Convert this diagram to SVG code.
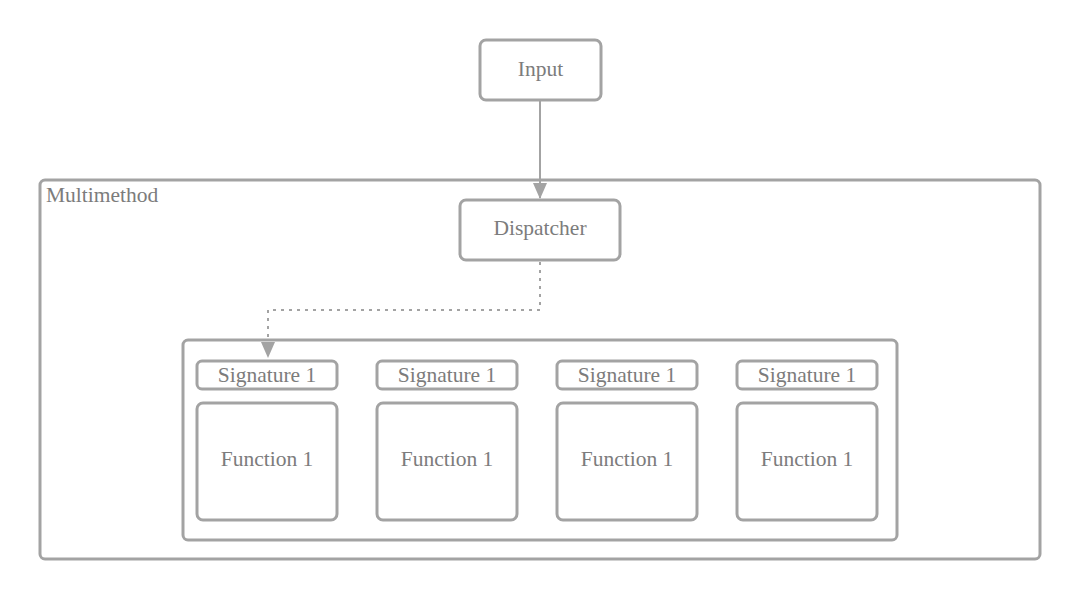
<svg xmlns="http://www.w3.org/2000/svg" width="1080" height="600" viewBox="0 0 1080 600">
<style>
.box{fill:#fff;stroke:#a3a3a3;stroke-width:3}
.t{font-family:"Liberation Serif","DejaVu Serif",serif;font-size:21.5px;fill:#7c7c7c;text-anchor:middle;dominant-baseline:central}
.edge{fill:none;stroke:#a3a3a3;stroke-width:2}
</style>
<defs>
<marker id="ah" markerWidth="16" markerHeight="14" refX="15" refY="7" orient="auto" markerUnits="userSpaceOnUse">
<path d="M0,0 L16,7 L0,14 z" fill="#a3a3a3"/>
</marker>
</defs>
<rect width="1080" height="600" fill="#fff"/>
<g id="multimethod">
<rect class="box" x="40" y="180" width="1000" height="379" rx="5"/>
<text class="t" x="46" y="195" style="text-anchor:start">Multimethod</text>
</g>
<g id="input">
<rect class="box" x="480" y="40" width="121" height="60" rx="6"/>
<text class="t" x="540.500" y="69">Input</text>
</g>
<g id="dispatcher">
<rect class="box" x="460" y="200" width="160" height="60" rx="6"/>
<text class="t" x="540" y="228">Dispatcher</text>
</g>
<g id="container">
<rect class="box" x="183" y="340" width="714" height="200" rx="5"/>
</g>
<g id="sig1"><rect class="box" x="197" y="361" width="140" height="28" rx="5"/><text class="t" x="267" y="375">Signature 1</text></g>
<g id="sig2"><rect class="box" x="377" y="361" width="140" height="28" rx="5"/><text class="t" x="447" y="375">Signature 1</text></g>
<g id="sig3"><rect class="box" x="557" y="361" width="140" height="28" rx="5"/><text class="t" x="627" y="375">Signature 1</text></g>
<g id="sig4"><rect class="box" x="737" y="361" width="140" height="28" rx="5"/><text class="t" x="807" y="375">Signature 1</text></g>
<g id="fn1"><rect class="box" x="197" y="403" width="140" height="117" rx="6"/><text class="t" x="267" y="459">Function 1</text></g>
<g id="fn2"><rect class="box" x="377" y="403" width="140" height="117" rx="6"/><text class="t" x="447" y="459">Function 1</text></g>
<g id="fn3"><rect class="box" x="557" y="403" width="140" height="117" rx="6"/><text class="t" x="627" y="459">Function 1</text></g>
<g id="fn4"><rect class="box" x="737" y="403" width="140" height="117" rx="6"/><text class="t" x="807" y="459">Function 1</text></g>
<g id="connectors">
<path class="edge" d="M540,101 L540,198" marker-end="url(#ah)"/>
<path class="edge" d="M540,262 L540,310 L268,310 L268,357" stroke-dasharray="3,5" marker-end="url(#ah)"/>
</g>
</svg>
